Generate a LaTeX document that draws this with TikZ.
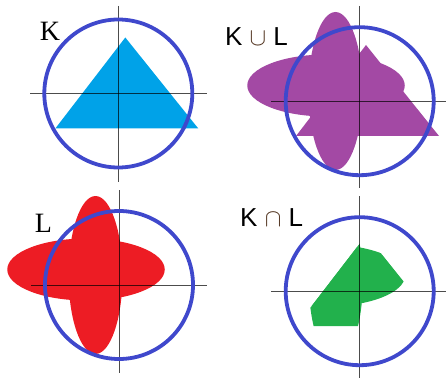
\documentclass[tikz,border=0pt]{standalone}
\usepackage{fontspec}
\setmainfont{Liberation Sans}
\newfontfamily\labelserif{Liberation Serif}
\usepackage{tikz}
\definecolor{ringblue}{RGB}{63,72,204}
\definecolor{kblue}{RGB}{0,162,232}
\definecolor{upurple}{RGB}{163,73,164}
\definecolor{lred}{RGB}{237,28,36}
\definecolor{igreen}{RGB}{34,177,76}
\definecolor{opbrown}{RGB}{80,50,30}

\tikzset{
  axisline/.style={draw=black, draw opacity=0.7, line width=0.9pt},
  unitring/.style={draw=ringblue, line width=3.8pt},
  setlabel/.style={anchor=base west, inner sep=0pt, font=\fontsize{26}{26}\selectfont},
  seriflabel/.style={setlabel, font=\labelserif\fontsize{28}{28}\selectfont},
}

\begin{document}
\begin{tikzpicture}[x=1pt, y=-1pt]
  \useasboundingbox (0,0) rectangle (446,379);

  % K
  \begin{scope}[shift={(118.3,93.5)}]
    \fill[kblue] (7,-56) -- (-63,35) -- (80,35) -- cycle;
    \draw[axisline] (-88,0) -- (89,0);
    \draw[axisline] (0,-87.5) -- (0,88.5);
    \draw[unitring] (0,0) circle[radius=74pt];
  \end{scope}
  \node[seriflabel] (labK) at (39.7,41) {K};

  % K union L
  \begin{scope}[shift={(359,101)}]
    \fill[upurple] (7,-56) -- (-63,35) -- (80,35) -- cycle;
    \fill[upurple] (-33,-15.5) ellipse[x radius=78.75pt, y radius=31pt];
    \fill[upurple] (-23.5,-10) ellipse[x radius=27pt, y radius=79pt];
    \draw[axisline] (-88,0) -- (87,0);
    \draw[axisline] (0,-95) -- (0,87);
    \draw[unitring] (0.7,0.2) circle[radius=74pt];
  \end{scope}
  \node[setlabel] (labKuL) at (224.8,45.5) {K {\color{opbrown}$\cup$} L};

  % L
  \begin{scope}[shift={(119,285)}]
    \fill[lred] (-33,-15.5) ellipse[x radius=78.75pt, y radius=31pt];
    \fill[lred] (-23.5,-10) ellipse[x radius=27pt, y radius=79pt];
    \draw[axisline] (-88,0) -- (88,0);
    \draw[axisline] (0,-95) -- (0,88);
    \draw[unitring] (0,0) circle[radius=74pt];
  \end{scope}
  \node[seriflabel] (labL) at (34.7,232.7) {L};

  % K intersection L
  \begin{scope}[shift={(359.3,291)}]
    \begin{scope}
      \clip (7,-56) -- (-63,35) -- (80,35) -- cycle;
      \fill[igreen] (-33,-15.5) ellipse[x radius=78.75pt, y radius=31pt];
      \fill[igreen] (-23.5,-10) ellipse[x radius=27pt, y radius=79pt];
    \end{scope}
    \draw[axisline] (-88,0) -- (87,0);
    \draw[axisline] (0,-95) -- (0,87);
    \draw[unitring] (0.4,0.2) circle[radius=74pt];
  \end{scope}
  \node[setlabel] (labKnL) at (240,226) {K {\color{opbrown}$\cap$} L};
\end{tikzpicture}
\end{document}
